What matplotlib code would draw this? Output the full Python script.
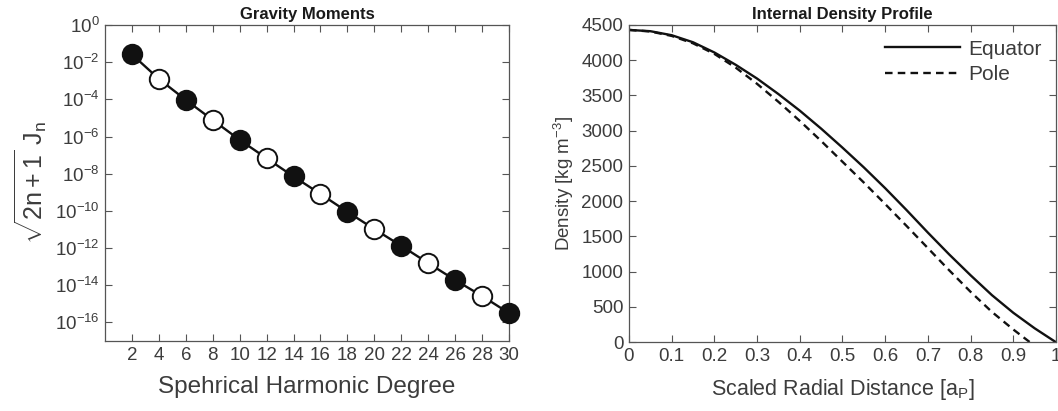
import numpy as np
import matplotlib
matplotlib.use("Agg")
import matplotlib.pyplot as plt
from matplotlib.ticker import LogFormatterSciNotation, NullLocator, FixedLocator

# ---------------- data ----------------
degree = [2, 4, 6, 8, 10, 12, 14, 16, 18, 20, 22, 24, 26, 28, 30]
log10_sqrtJ = [-1.58, -2.90, -4.03, -5.11, -6.18, -7.17, -8.15, -9.09,
               -10.05, -10.98, -11.88, -12.81, -13.72, -14.58, -15.50]

r_eq = [0.0, 0.05, 0.1, 0.15, 0.2, 0.25, 0.3, 0.35, 0.4, 0.45, 0.5,
        0.55, 0.6, 0.65, 0.7, 0.75, 0.8, 0.85, 0.9, 0.95, 1.0]
rho_eq = [4430, 4412, 4355, 4255, 4110, 3935, 3740, 3520, 3285, 3030, 2760,
          2480, 2185, 1875, 1555, 1245, 950, 668, 418, 198, 0]

r_pole = [0.0, 0.05, 0.1, 0.15, 0.2, 0.25, 0.3, 0.35, 0.4, 0.45, 0.5,
          0.55, 0.6, 0.65, 0.7, 0.75, 0.8, 0.85, 0.9, 0.939]
rho_pole = [4430, 4408, 4345, 4240, 4090, 3895, 3665, 3410, 3140, 2855, 2560,
            2265, 1960, 1650, 1335, 1020, 715, 430, 181, 0]

xticks_left = [2, 4, 6, 8, 10, 12, 14, 16, 18, 20, 22, 24, 26, 28, 30]
xticks_right = [0, 0.1, 0.2, 0.3, 0.4, 0.5, 0.6, 0.7, 0.8, 0.9, 1.0]
xticklabels_right = ['0', '0.1', '0.2', '0.3', '0.4', '0.5', '0.6', '0.7', '0.8', '0.9', '1']
yticks_right = [0, 500, 1000, 1500, 2000, 2500, 3000, 3500, 4000, 4500]

# ---------------- style ----------------
plt.rcParams['font.family'] = ['Liberation Sans', 'DejaVu Sans']
plt.rcParams['mathtext.fontset'] = 'custom'
plt.rcParams['mathtext.rm'] = 'Liberation Sans'
plt.rcParams['mathtext.it'] = 'Liberation Sans:italic'
plt.rcParams['mathtext.bf'] = 'Liberation Sans:bold'
txt = '#3c3c3c'
spine = '#555555'

fig = plt.figure(figsize=(10.58, 4.11), dpi=100)
ax1 = fig.add_axes([0.0992, 0.1703, 0.3819, 0.7689])
ax2 = fig.add_axes([0.5945, 0.1673, 0.4036, 0.7719])

for ax in (ax1, ax2):
    for s in ax.spines.values():
        s.set_color(spine)
        s.set_linewidth(0.9)
    ax.tick_params(direction='in', top=True, right=True, length=5, width=0.8,
                   colors=spine, labelcolor=txt, labelsize=13.5, pad=4)

# ---------------- left panel ----------------
vals = [10 ** v for v in log10_sqrtJ]
ax1.plot(degree, vals, color='#111111', lw=1.7, zorder=2)
for i, (n, v) in enumerate(zip(degree, vals)):
    face = '#111111' if i % 2 == 0 else 'white'
    ax1.plot([n], [v], marker='o', ms=14, mfc=face, mec='#111111', mew=1.4,
             zorder=3, clip_on=False)
ax1.set_yscale('log')
ax1.set_xlim(0, 30)
ax1.set_ylim(1e-17, 1e0)
ax1.xaxis.set_major_locator(FixedLocator(xticks_left))
ax1.yaxis.set_major_locator(FixedLocator([10.0 ** k for k in range(0, -17, -2)]))
ax1.yaxis.set_major_formatter(LogFormatterSciNotation())
ax1.yaxis.set_minor_locator(NullLocator())
ax1.set_xlabel('Spehrical Harmonic Degree', fontsize=17.5, color=txt, labelpad=9)
ax1.set_ylabel(r'$\sqrt{\mathrm{2n+1}}\ \mathrm{J_n}$', fontsize=18, color=txt, labelpad=4)
ax1.set_title('Gravity Moments', fontsize=12, fontweight='bold', color='#1a1a1a', pad=4)

# ---------------- right panel ----------------
ax2.plot(r_eq, rho_eq, color='#111111', lw=1.7, ls='-', label='Equator')
ax2.plot(r_pole, rho_pole, color='#111111', lw=1.7, ls=(0, (3.2, 2.2)), label='Pole')
ax2.set_xlim(0, 1)
ax2.set_ylim(0, 4500)
ax2.set_xticks(xticks_right)
ax2.set_xticklabels(xticklabels_right)
ax2.set_yticks(yticks_right)
ax2.set_xlabel(r'Scaled Radial Distance [a$_\mathrm{P}$]', fontsize=15.5, color=txt, labelpad=9)
ax2.set_ylabel(r'Density [kg m$^{-3}$]', fontsize=13.5, color=txt, labelpad=4)
ax2.set_title('Internal Density Profile', fontsize=12, fontweight='bold', color='#1a1a1a', pad=4)
leg = ax2.legend(loc='upper right', frameon=False, fontsize=15, handlelength=3.6,
                 handletextpad=0.4, borderaxespad=0.3, labelspacing=0.3)
for t in leg.get_texts():
    t.set_color(txt)

fig.savefig('out.png', dpi=100)
